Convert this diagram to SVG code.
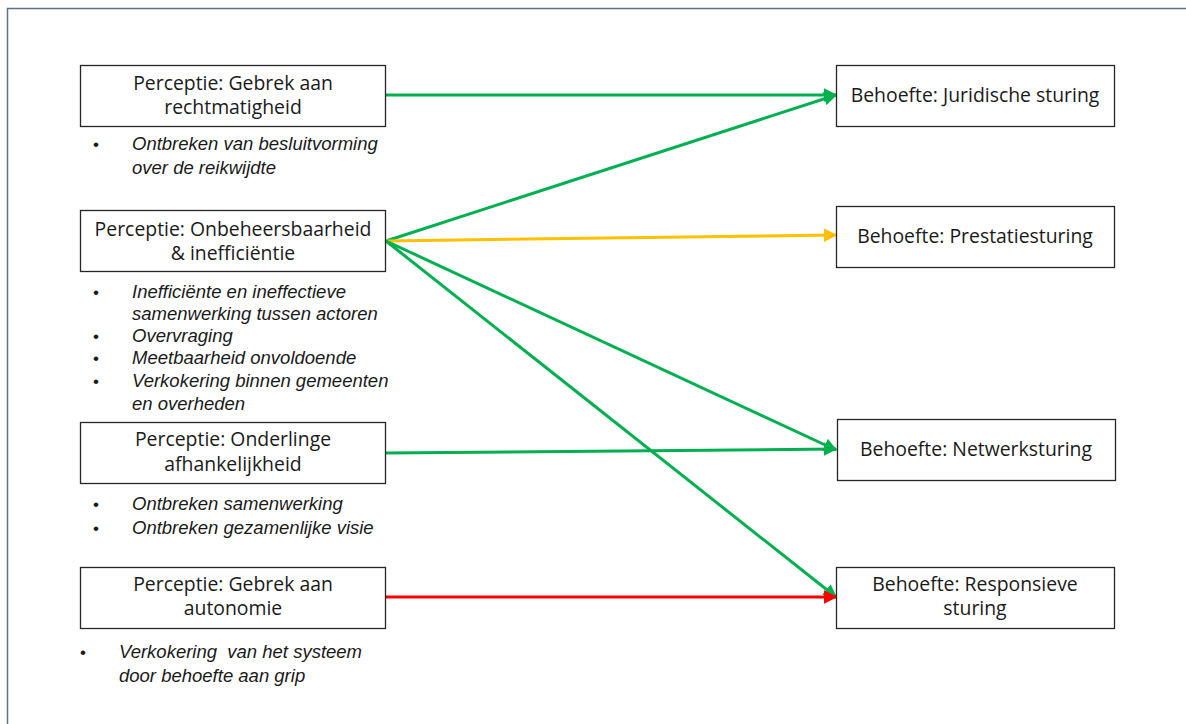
<svg xmlns="http://www.w3.org/2000/svg" width="1186" height="724" viewBox="0 0 1186 724">
  <style>
    .box { fill: #ffffff; stroke: #262626; stroke-width: 1.3; }
    .lbl { font-family: "Open Sans", "Liberation Sans", Arial, sans-serif; font-size: 19.4px; fill: #1a1a1a; text-anchor: middle; }
    .bul { font-family: "Liberation Sans", Arial, sans-serif; font-size: 18.5px; font-style: italic; fill: #1a1a1a; }
    .dot { font-family: "Liberation Sans", Arial, sans-serif; font-size: 17px; fill: #1a1a1a; }
    .edge { fill: none; stroke-width: 3; }
  </style>
  <defs>
    <marker id="ah-green" viewBox="0 0 10 10" refX="9" refY="5" markerWidth="4.5" markerHeight="4.5" orient="auto" markerUnits="strokeWidth">
      <path d="M0,0 L10,5 L0,10 z" fill="#00b050"/>
    </marker>
    <marker id="ah-yellow" viewBox="0 0 10 10" refX="9" refY="5" markerWidth="4.5" markerHeight="4.5" orient="auto" markerUnits="strokeWidth">
      <path d="M0,0 L10,5 L0,10 z" fill="#ffc000"/>
    </marker>
    <marker id="ah-red" viewBox="0 0 10 10" refX="9" refY="5" markerWidth="4.5" markerHeight="4.5" orient="auto" markerUnits="strokeWidth">
      <path d="M0,0 L10,5 L0,10 z" fill="#ff0000"/>
    </marker>
  </defs>

  <rect width="1186" height="724" fill="#ffffff"/>
  <!-- outer frame -->
  <path d="M7.5,724 L7.5,8.5 L1186,8.5" fill="none" stroke="#5f7384" stroke-width="1.5"/>

  <!-- connectors -->
  <g id="connectors">
    <line class="edge" x1="386" y1="95" x2="836" y2="95" stroke="#00b050" marker-end="url(#ah-green)"/>
    <line class="edge" x1="386" y1="241" x2="836" y2="95" stroke="#00b050" marker-end="url(#ah-green)"/>
    <line class="edge" x1="386" y1="241" x2="836" y2="235" stroke="#ffc000" marker-end="url(#ah-yellow)"/>
    <line class="edge" x1="386" y1="241" x2="836" y2="450" stroke="#00b050" marker-end="url(#ah-green)"/>
    <line class="edge" x1="386" y1="241" x2="836" y2="597" stroke="#00b050" marker-end="url(#ah-green)"/>
    <line class="edge" x1="386" y1="453" x2="836" y2="449" stroke="#00b050" marker-end="url(#ah-green)"/>
    <line class="edge" x1="386" y1="597" x2="836" y2="597" stroke="#ff0000" marker-end="url(#ah-red)"/>
  </g>

  <!-- perception nodes -->
  <g id="p-rechtmatigheid">
    <rect class="box" x="80.5" y="65.5" width="305" height="61"/>
    <text class="lbl" x="233" y="90">Perceptie: Gebrek aan</text>
    <text class="lbl" x="233" y="114">rechtmatigheid</text>
    <text class="dot" x="93" y="150">•</text>
    <text class="bul" x="132" y="150">Ontbreken van besluitvorming</text>
    <text class="bul" x="132" y="174">over de reikwijdte</text>
  </g>

  <g id="p-onbeheersbaarheid">
    <rect class="box" x="80.5" y="210.5" width="305" height="61"/>
    <text class="lbl" x="233" y="236">Perceptie: Onbeheersbaarheid</text>
    <text class="lbl" x="233" y="260">&amp; inefficiëntie</text>
    <text class="dot" x="93" y="298">•</text>
    <text class="bul" x="132" y="298">Inefficiënte en ineffectieve</text>
    <text class="bul" x="132" y="320">samenwerking tussen actoren</text>
    <text class="dot" x="93" y="342">•</text>
    <text class="bul" x="132" y="342">Overvraging</text>
    <text class="dot" x="93" y="364">•</text>
    <text class="bul" x="132" y="364">Meetbaarheid onvoldoende</text>
    <text class="dot" x="93" y="387">•</text>
    <text class="bul" x="132" y="387">Verkokering binnen gemeenten</text>
    <text class="bul" x="132" y="410">en overheden</text>
  </g>

  <g id="p-afhankelijkheid">
    <rect class="box" x="80.5" y="422.5" width="305" height="61"/>
    <text class="lbl" x="233" y="446">Perceptie: Onderlinge</text>
    <text class="lbl" x="233" y="471">afhankelijkheid</text>
    <text class="dot" x="93" y="510">•</text>
    <text class="bul" x="132" y="510">Ontbreken samenwerking</text>
    <text class="dot" x="93" y="534">•</text>
    <text class="bul" x="132" y="534">Ontbreken gezamenlijke visie</text>
  </g>

  <g id="p-autonomie">
    <rect class="box" x="80.5" y="567.5" width="305" height="61"/>
    <text class="lbl" x="233" y="591">Perceptie: Gebrek aan</text>
    <text class="lbl" x="233" y="615">autonomie</text>
    <text class="dot" x="80" y="658">•</text>
    <text class="bul" x="119" y="658" xml:space="preserve">Verkokering  van het systeem</text>
    <text class="bul" x="119" y="682">door behoefte aan grip</text>
  </g>

  <!-- need nodes -->
  <g id="b-juridisch">
    <rect class="box" x="836.5" y="65.5" width="278" height="61"/>
    <text class="lbl" x="975" y="102">Behoefte: Juridische sturing</text>
  </g>

  <g id="b-prestatie">
    <rect class="box" x="836.5" y="206.5" width="278" height="61"/>
    <text class="lbl" x="975" y="243">Behoefte: Prestatiesturing</text>
  </g>

  <g id="b-netwerk">
    <rect class="box" x="837.5" y="419.5" width="278" height="61"/>
    <text class="lbl" x="976" y="456">Behoefte: Netwerksturing</text>
  </g>

  <g id="b-responsief">
    <rect class="box" x="836.5" y="567.5" width="278" height="61"/>
    <text class="lbl" x="975" y="591">Behoefte: Responsieve</text>
    <text class="lbl" x="975" y="615">sturing</text>
  </g>
</svg>
